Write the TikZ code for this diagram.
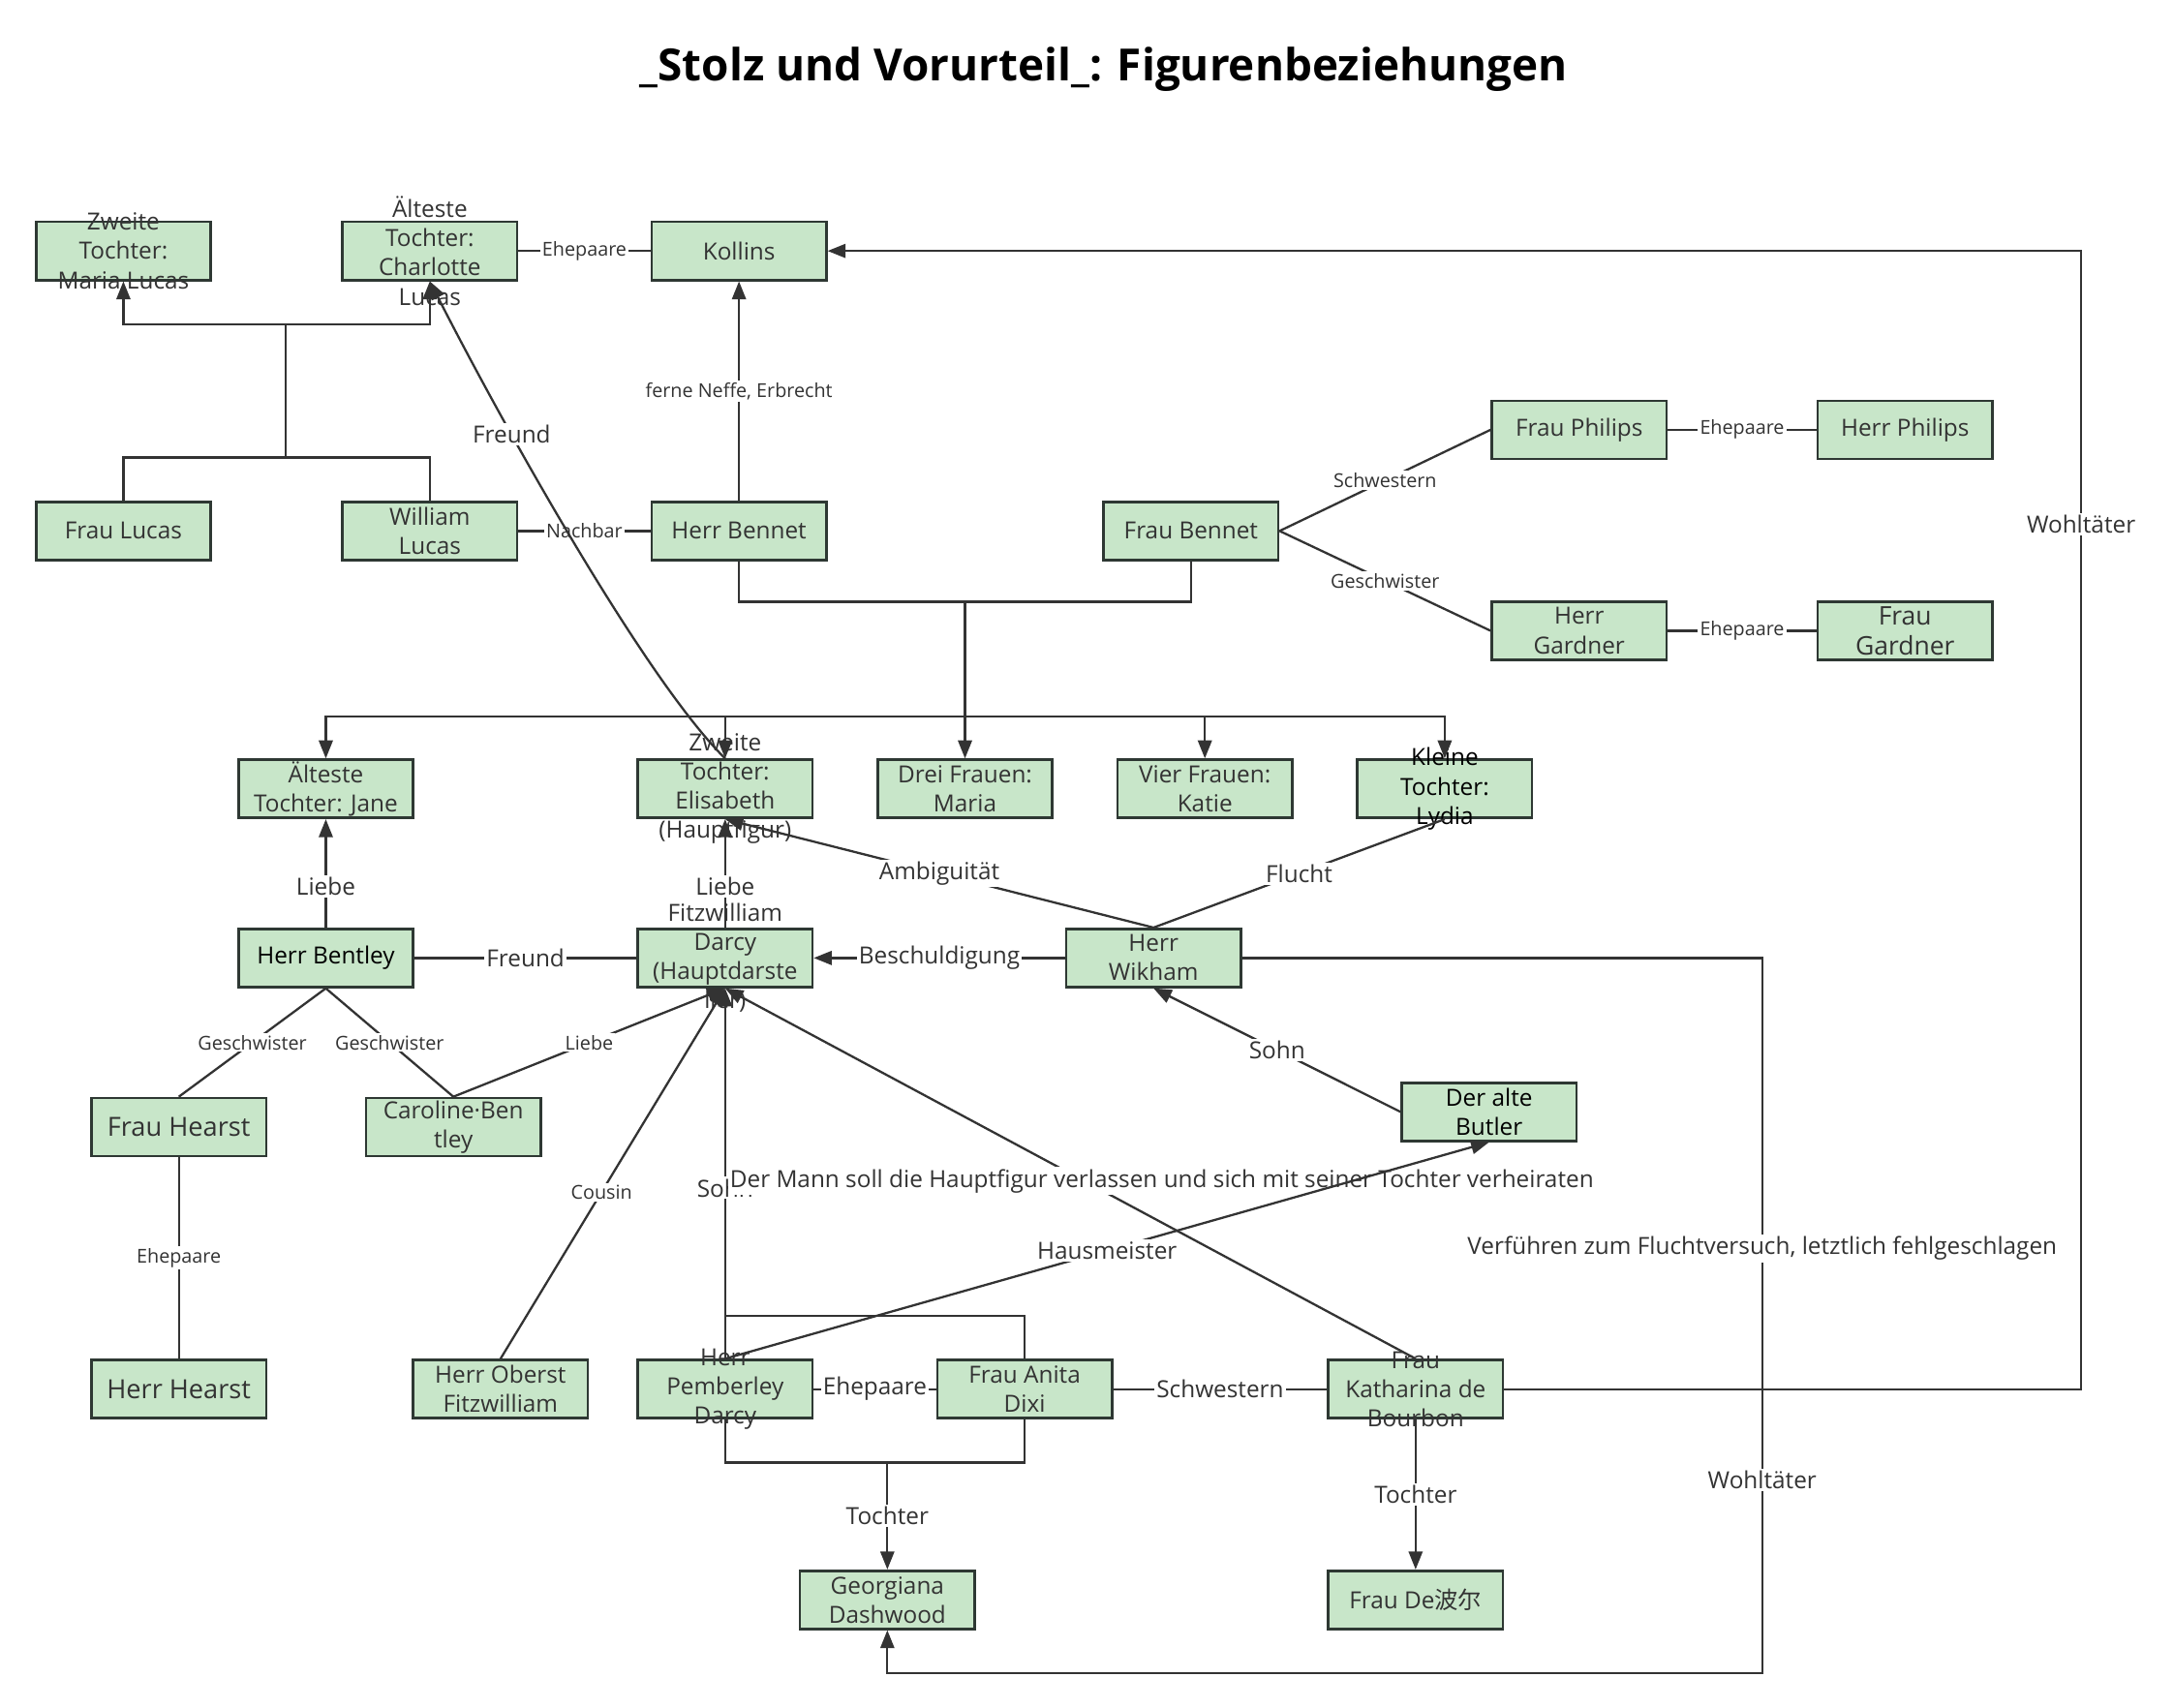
\documentclass[tikz,border=0pt]{standalone}
\usepackage{fontspec}
\setmainfont{Open Sans}
\newfontfamily\cjk{Noto Sans CJK SC}
\usetikzlibrary{arrows.meta}
\definecolor{boxfill}{HTML}{C8E6C9}
\definecolor{boxline}{HTML}{2E3833}
\definecolor{wiregray}{HTML}{333333}

\begin{document}
\begin{tikzpicture}[x=1pt, y=-1pt, >={Triangle[length=13pt, width=10pt]},
        box/.style={shape=rectangle, draw=boxline, fill=boxfill, line width=1.8pt, minimum width=126pt, minimum height=42pt, inner sep=0pt},
        boxtext/.style={align=center, inner sep=0pt, text=wiregray, font=\fontsize{17}{21}\selectfont},
        wire/.style={draw=wiregray, line width=1.6pt},
        lbl/.style={fill=white, inner sep=1.5pt, text=wiregray, font=\fontsize{17}{20}\selectfont},
        slbl/.style={lbl, font=\fontsize{13.8}{16}\selectfont}]
        	\useasboundingbox (0,0) rectangle (1568,1232);
        	% Title:
        	\node[font=\fontsize{32}{38}\selectfont\bfseries, text=black] (title) at (796,50) {\_Stolz und Vorurteil\_: Figurenbeziehungen};
        	% Persons:
        	\node[box] (maria) at (89,181) {};
        	\node[boxtext] (maria-t) at (maria) {Zweite\\Tochter:\\Maria Lucas};
        	\node[box] (charlotte) at (310,181) {};
        	\node[boxtext] (charlotte-t) at (charlotte) {Älteste\\Tochter:\\Charlotte\\Lucas};
        	\node[box] (kollins) at (533,181) {};
        	\node[boxtext] (kollins-t) at (kollins) {Kollins};
        	\node[box] (fphilips) at (1139,310) {};
        	\node[boxtext] (fphilips-t) at (fphilips) {Frau Philips};
        	\node[box] (hphilips) at (1374,310) {};
        	\node[boxtext] (hphilips-t) at (hphilips) {Herr Philips};
        	\node[box] (flucas) at (89,383) {};
        	\node[boxtext] (flucas-t) at (flucas) {Frau Lucas};
        	\node[box] (william) at (310,383) {};
        	\node[boxtext] (william-t) at (william) {William\\Lucas};
        	\node[box] (bennet) at (533,383) {};
        	\node[boxtext] (bennet-t) at (bennet) {Herr Bennet};
        	\node[box] (fbennet) at (859,383) {};
        	\node[boxtext] (fbennet-t) at (fbennet) {Frau Bennet};
        	\node[box] (gardner) at (1139,455) {};
        	\node[boxtext] (gardner-t) at (gardner) {Herr\\Gardner};
        	\node[box] (fgardner) at (1374,455) {};
        	\node[boxtext, font=\fontsize{18.5}{22}\selectfont] (fgardner-t) at (fgardner) {Frau\\Gardner};
        	\node[box] (jane) at (235,569) {};
        	\node[boxtext] (jane-t) at (jane) {Älteste\\Tochter: Jane};
        	\node[box] (eliz) at (523,569) {};
        	\node[boxtext] (eliz-t) at (eliz) {Zweite\\Tochter:\\Elisabeth\\(Hauptfigur)};
        	\node[box] (drei) at (696,569) {};
        	\node[boxtext] (drei-t) at (drei) {Drei Frauen:\\Maria};
        	\node[box] (katie) at (869,569) {};
        	\node[boxtext] (katie-t) at (katie) {Vier Frauen:\\Katie};
        	\node[box] (lydia) at (1042,569) {};
        	\node[boxtext, text=black] (lydia-t) at (lydia) {Kleine\\Tochter:\\Lydia};
        	\node[box] (bentley) at (235,691) {};
        	\node[boxtext, text=black] (bentley-t) at (bentley) {Herr Bentley};
        	\node[box] (darcy) at (523,691) {};
        	\node[boxtext] (darcy-t) at (darcy) {Fitzwilliam\\Darcy\\(Hauptdarste\\ller)};
        	\node[box] (wikham) at (832,691) {};
        	\node[boxtext] (wikham-t) at (wikham) {Herr\\Wikham};
        	\node[box] (fhearst) at (129,813) {};
        	\node[boxtext, font=\fontsize{19}{23}\selectfont] (fhearst-t) at (fhearst) {Frau Hearst};
        	\node[box] (caroline) at (327,813) {};
        	\node[boxtext] (caroline-t) at (caroline) {Caroline·Ben\\tley};
        	\node[box] (butler) at (1074,802) {};
        	\node[boxtext, text=black] (butler-t) at (butler) {Der alte\\Butler};
        	\node[box] (hhearst) at (129,1002) {};
        	\node[boxtext, font=\fontsize{19}{23}\selectfont] (hhearst-t) at (hhearst) {Herr Hearst};
        	\node[box] (oberst) at (361,1002) {};
        	\node[boxtext] (oberst-t) at (oberst) {Herr Oberst\\Fitzwilliam};
        	\node[box] (pember) at (523,1002) {};
        	\node[boxtext] (pember-t) at (pember) {Herr\\Pemberley\\Darcy};
        	\node[box] (anita) at (739,1002) {};
        	\node[boxtext] (anita-t) at (anita) {Frau Anita\\Dixi};
        	\node[box] (kath) at (1021,1002) {};
        	\node[boxtext] (kath-t) at (kath) {Frau\\Katharina de\\Bourbon};
        	\node[box] (georgiana) at (640,1154) {};
        	\node[boxtext] (georgiana-t) at (georgiana) {Georgiana\\Dashwood};
        	\node[box] (debour) at (1021,1154) {};
        	\node[boxtext] (debour-t) at (debour) {Frau De{\cjk 波尔}};
        	% Lucas family:
        	\coordinate (lucas-p) at (206,330);
        	\coordinate (lucas-c) at (206,234);
        	\draw[wire] (flucas.north) |- (lucas-p);
        	\draw[wire] (william.north) |- (lucas-p);
        	\draw[wire] (lucas-p) -- (lucas-c);
        	\draw[wire, ->] (lucas-c) -| (maria.south);
        	\draw[wire, ->] (lucas-c) -| (charlotte.south);
        	\draw[wire] (charlotte) -- node[slbl]{Ehepaare} (kollins);
        	\draw[wire, ->] (bennet) -- node[slbl]{ferne Neffe, Erbrecht} (kollins);
        	\draw[wire] (william) -- node[slbl]{Nachbar} (bennet);
        	\draw[wire, ->] (eliz.north) .. controls (466,491) and (364,309) .. node[lbl, pos=0.7]{Freund} (charlotte.south);
        	% Bennet family:
        	\coordinate (bennet-p) at (696,434);
        	\coordinate (bennet-c) at (696,517);
        	\draw[wire] (bennet.south) |- (bennet-p);
        	\draw[wire] (fbennet.south) |- (bennet-p);
        	\draw[wire, ->] (bennet-p) -- (drei.north);
        	\draw[wire, ->] (bennet-c) -| (jane.north);
        	\draw[wire, ->] (bennet-c) -| (eliz.north);
        	\draw[wire, ->] (bennet-c) -| (katie.north);
        	\draw[wire, ->] (bennet-c) -| (lydia.north);
        	\draw[wire] (fbennet.east) -- node[slbl]{Schwestern} (fphilips.west);
        	\draw[wire] (fbennet.east) -- node[slbl]{Geschwister} (gardner.west);
        	\draw[wire] (fphilips) -- node[slbl]{Ehepaare} (hphilips);
        	\draw[wire] (gardner) -- node[slbl]{Ehepaare} (fgardner);
        	% Bentley, Darcy, Wikham:
        	\draw[wire, ->] (bentley) -- node[lbl, pos=0.38]{Liebe} (jane);
        	\draw[wire, ->] (darcy) -- node[lbl, pos=0.38]{Liebe} (eliz);
        	\draw[wire] (bentley) -- node[lbl]{Freund} (darcy);
        	\draw[wire, ->] (wikham) -- node[lbl]{Beschuldigung} (darcy);
        	\draw[wire, ->] (wikham.north) -- node[lbl]{Ambiguität} (eliz.south);
        	\draw[wire] (wikham.north) -- node[lbl]{Flucht} (lydia.south);
        	\draw[wire, ->] (butler.west) -- node[lbl]{Sohn} (wikham.south);
        	\draw[wire] (bentley.south) -- node[slbl]{Geschwister} (fhearst.north);
        	\draw[wire] (bentley.south) -- node[slbl]{Geschwister} (caroline.north);
        	\draw[wire, ->] (caroline.north) -- node[slbl]{Liebe} (darcy.south);
        	\draw[wire] (fhearst) -- node[slbl]{Ehepaare} (hhearst);
        	\draw[wire, ->] (oberst.north) -- node[slbl, pos=0.45]{Cousin} (darcy.south);
        	% Pemberley family:
        	\coordinate (pd-top) at (523,949);
        	\coordinate (pd-bot) at (640,1055);
        	\draw[wire] (pember.north) -- (pd-top) -| (anita.north);
        	\draw[wire, ->] (pd-top) -- node[lbl, pos=0.39]{Sohn} (darcy.south);
        	\draw[wire] (pember.south) |- (pd-bot);
        	\draw[wire] (anita.south) |- (pd-bot);
        	\draw[wire, ->] (pd-bot) -- node[lbl]{Tochter} (georgiana.north);
        	\draw[wire] (pember) -- node[lbl]{Ehepaare} (anita);
        	\draw[wire] (anita) -- node[lbl]{Schwestern} (kath);
        	\draw[wire, ->] (kath) -- node[lbl]{Tochter} (debour);
        	\draw[wire, ->] (kath.north) -- node[lbl, pos=0.48, xshift=56]{Der Mann soll die Hauptfigur verlassen und sich mit seiner Tochter verheiraten} (darcy.south);
        	\draw[wire, ->] (pember.north) -- node[lbl]{Hausmeister} (butler.south);
        	% Long connectors:
        	\coordinate (wohl-turn) at (1501,181);
        	\draw[wire, ->] (kath.east) -| node[lbl, pos=0.88]{Wohltäter} (wohl-turn) -- (kollins.east);
        	\coordinate (verf-turn) at (1271,1207);
        	\draw[wire, ->] (wikham.east) -| node[lbl, pos=0.703]{Verführen zum Fluchtversuch, letztlich fehlgeschlagen} node[lbl, pos=0.865]{Wohltäter} (verf-turn) -| (georgiana.south);
        \end{tikzpicture}
\end{document}
